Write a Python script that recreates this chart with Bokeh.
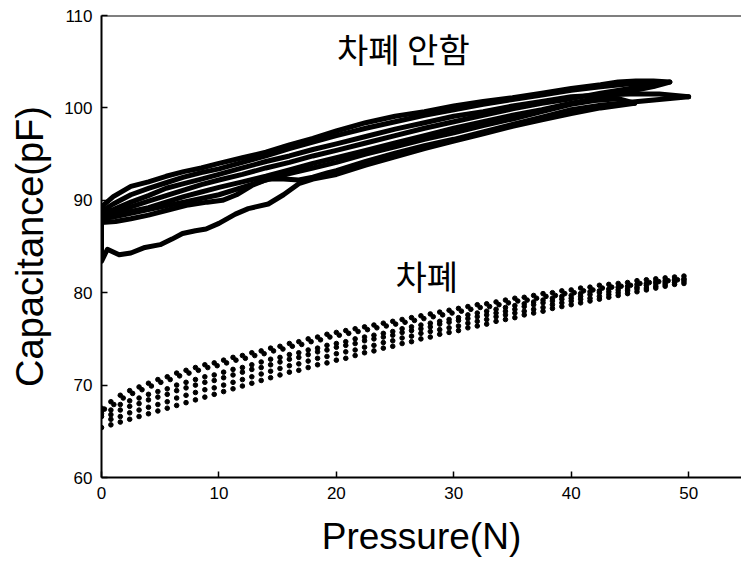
from bokeh.plotting import figure
from bokeh.models import FixedTicker, Span, Label, Range1d
from bokeh.embed import file_html
from bokeh.resources import INLINE

# ---------------- data ----------------
x_ticks = [0, 10, 20, 30, 40, 50]
y_ticks = [60, 70, 80, 90, 100, 110]
label_unshielded = "차폐 안함"
label_shielded = "차폐"
x_title = "Pressure(N)"
y_title = "Capacitance(pF)"

# Unshielded group: solid loading / unloading curves (pressure N, capacitance pF)
a_load_x = [0, 0, 0, 0, 0, 0, 0.5, 1.5, 2.5, 3.7, 5.0, 6.0, 6.9, 8.0, 8.9, 10.0, 11.4, 12.5, 14.2, 15.5, 16.8, 18.0,
            20.0, 22.5, 25.0, 27.5, 30.0, 32.5, 35.0, 37.5, 40.0, 42.5, 45.4]
a_load_y = [88.0, 87.1, 86.4, 85.6, 84.5, 83.4, 84.7, 84.1, 84.3, 84.9, 85.2, 85.8, 86.4, 86.7, 86.9, 87.5, 88.5, 89.1,
            89.6, 90.6, 91.8, 92.3, 92.8, 93.8, 94.7, 95.6, 96.4, 97.2, 98.0, 98.7, 99.4, 100.0, 100.5]
a_unload_x = [0, 1, 2.5, 4, 5.5, 7, 8.5, 10, 12, 14, 16, 18, 20, 22.5, 25, 27.5, 30, 32.5, 35, 37.5, 40, 42, 44, 45.4]
a_unload_y = [88.0, 88.2, 88.6, 89.0, 89.4, 89.8, 90.2, 90.6, 91.4, 92.2, 92.9, 93.5, 94.1, 95.0, 95.8, 96.6, 97.3,
              98.1, 98.8, 99.6, 100.4, 100.8, 101.0, 100.5]

b_load_x = [0, 1.2, 2.5, 4, 5.5, 7.4, 9, 10.3, 11.5, 12.8, 14.2, 15.5, 16.8, 18, 19.3, 20, 22.5, 25, 27.5, 30, 32.5,
            35, 37.5, 40, 42.5, 45, 47.5, 50]
b_load_y = [87.6, 87.7, 88.0, 88.4, 88.9, 89.5, 89.8, 90.0, 90.6, 91.6, 92.3, 92.3, 92.2, 92.5, 93.0, 93.2, 94.2,
            95.1, 95.9, 96.6, 97.4, 98.2, 99.0, 99.8, 100.3, 100.6, 100.9, 101.2]
b_unload_x = [0, 1, 2.5, 4, 5.5, 7, 8.5, 10, 12, 14, 16, 18, 20, 22.5, 25, 27.5, 30, 32.5, 35, 37.5, 40, 42.5, 45,
              47.5, 50]
b_unload_y = [88.6, 89.0, 89.8, 90.5, 91.3, 91.8, 92.3, 92.8, 93.5, 94.2, 94.8, 95.5, 96.1, 96.9, 97.7, 98.4, 99.1,
              99.6, 100.2, 100.7, 101.2, 101.4, 101.5, 101.5, 101.2]

c_load_x = [0, 1, 2.5, 4, 5.5, 7, 8.5, 10, 12, 14, 16, 18, 20, 22.5, 25, 27.5, 30, 32.5, 35, 37.5, 40, 42.5, 45, 47,
            48.4]
c_load_y = [88.2, 88.4, 88.8, 89.2, 89.8, 90.4, 90.9, 91.4, 92.0, 92.6, 93.3, 94.0, 94.6, 95.4, 96.2, 97.0, 97.8,
            98.5, 99.2, 99.8, 100.5, 101.1, 101.8, 102.3, 102.8]
c_unload_x = [0, 1, 2.5, 4, 5.5, 7, 8.5, 10, 12, 14, 16, 18, 20, 22.5, 25, 27.5, 30, 32.5, 35, 37.5, 40, 42.5, 44,
              45.5, 47, 48.4]
c_unload_y = [89.3, 90.4, 91.5, 92.0, 92.6, 93.1, 93.5, 94.0, 94.6, 95.2, 96.0, 96.7, 97.5, 98.4, 99.1, 99.6, 100.2,
              100.7, 101.1, 101.6, 102.1, 102.5, 102.8, 102.9, 102.9, 102.8]

d_load_x = [0, 1, 2.5, 4, 5.5, 7, 8.5, 10, 12, 14, 16, 18, 20, 22.5, 25, 27.5, 30, 32.5, 35, 37.5, 40, 42.5, 45, 47.2]
d_load_y = [88.4, 88.7, 89.3, 89.9, 90.5, 91.1, 91.7, 92.2, 92.8, 93.5, 94.1, 94.8, 95.4, 96.2, 97.0, 97.8, 98.5,
            99.2, 99.9, 100.5, 101.0, 101.6, 102.1, 102.6]
d_unload_x = [0, 1, 2.5, 4, 5.5, 7, 8.5, 10, 12, 14, 16, 18, 20, 22.5, 25, 27.5, 30, 32.5, 35, 37.5, 40, 42.5, 45, 47.2]
d_unload_y = [88.8, 89.6, 90.6, 91.3, 91.9, 92.5, 93.0, 93.4, 94.1, 94.8, 95.6, 96.3, 97.0, 97.8, 98.5, 99.2, 99.8,
              100.4, 100.9, 101.4, 101.9, 102.3, 102.6, 102.6]

# Shielded group: sampled points
pressure = [0.0, 0.8, 1.6, 2.4, 3.2, 4.0, 4.8, 5.6, 6.4, 7.2, 8.0, 8.8, 9.6, 10.4, 11.2, 12.0, 12.8, 13.6, 14.4,
            15.2, 16.0, 16.8, 17.6, 18.4, 19.2, 20.0, 20.8, 21.6, 22.4, 23.2, 24.0, 24.8, 25.6, 26.4, 27.2, 28.0,
            28.8, 29.6, 30.4, 31.2, 32.0, 32.8, 33.6, 34.4, 35.2, 36.0, 36.8, 37.6, 38.4, 39.2, 40.0, 40.8, 41.6,
            42.4, 43.2, 44.0, 44.8, 45.6, 46.4, 47.2, 48.0, 48.8, 49.6]
pressure_b = [0.25, 1.05, 1.85, 2.65, 3.45, 4.25, 5.05, 5.85, 6.65, 7.45, 8.25, 9.05, 9.85, 10.65, 11.45, 12.25,
              13.05, 13.85, 14.65, 15.45, 16.25, 17.05, 17.85, 18.65, 19.45, 20.25, 21.05, 21.85, 22.65, 23.45,
              24.25, 25.05, 25.85, 26.65, 27.45, 28.25, 29.05, 29.85, 30.65, 31.45, 32.25, 33.05, 33.85, 34.65,
              35.45, 36.25, 37.05, 37.85, 38.65, 39.45, 40.25, 41.05, 41.85, 42.65, 43.45, 44.25, 45.05, 45.85,
              46.65, 47.45, 48.25, 49.05]
s1 = [65.4, 65.7, 66.0, 66.3, 66.6, 66.9, 67.2, 67.5, 67.8, 68.1, 68.4, 68.7, 69.0, 69.3, 69.6, 69.9, 70.2, 70.5,
      70.8, 71.1, 71.4, 71.6, 71.9, 72.2, 72.4, 72.7, 72.9, 73.2, 73.5, 73.7, 74.0, 74.2, 74.5, 74.7, 75.0, 75.2,
      75.5, 75.7, 75.9, 76.2, 76.4, 76.6, 76.9, 77.1, 77.3, 77.6, 77.8, 78.0, 78.3, 78.5, 78.7, 78.9, 79.1, 79.3,
      79.5, 79.7, 79.9, 80.1, 80.3, 80.5, 80.7, 80.9, 81.0]
s2 = [66.6, 66.3, 66.6, 67.0, 67.3, 67.6, 67.9, 68.2, 68.6, 68.9, 69.2, 69.5, 69.7, 70.0, 70.3, 70.6, 70.9, 71.2,
      71.5, 71.8, 72.1, 72.3, 72.6, 72.9, 73.1, 73.4, 73.6, 73.8, 74.1, 74.3, 74.6, 74.8, 75.1, 75.3, 75.6, 75.8,
      76.0, 76.2, 76.4, 76.7, 76.9, 77.1, 77.4, 77.6, 77.8, 78.0, 78.2, 78.4, 78.7, 78.9, 79.1, 79.3, 79.4, 79.6,
      79.8, 80.0, 80.2, 80.4, 80.5, 80.7, 80.9, 81.1, 81.2]
s3 = [66.9, 66.8, 67.3, 67.7, 68.0, 68.4, 68.7, 69.0, 69.4, 69.7, 70.0, 70.3, 70.5, 70.8, 71.1, 71.4, 71.7, 71.9,
      72.2, 72.5, 72.8, 73.0, 73.3, 73.6, 73.8, 74.1, 74.3, 74.5, 74.8, 75.0, 75.2, 75.4, 75.7, 75.9, 76.1, 76.3,
      76.6, 76.8, 77.0, 77.2, 77.4, 77.6, 77.8, 78.0, 78.2, 78.5, 78.7, 78.9, 79.1, 79.3, 79.4, 79.6, 79.8, 80.0,
      80.1, 80.3, 80.4, 80.6, 80.8, 81.0, 81.1, 81.3, 81.4]
s4 = [67.2, 67.3, 67.9, 68.3, 68.6, 69.0, 69.3, 69.6, 70.0, 70.3, 70.6, 70.9, 71.1, 71.4, 71.7, 71.9, 72.2, 72.5,
      72.8, 73.0, 73.3, 73.5, 73.8, 74.0, 74.3, 74.5, 74.7, 75.0, 75.2, 75.4, 75.6, 75.8, 76.1, 76.3, 76.5, 76.7,
      76.9, 77.1, 77.3, 77.6, 77.8, 78.0, 78.2, 78.4, 78.6, 78.8, 79.0, 79.2, 79.4, 79.6, 79.7, 79.9, 80.1, 80.2,
      80.4, 80.6, 80.7, 80.9, 81.0, 81.2, 81.3, 81.4, 81.5]
s5 = [67.5, 68.2, 68.9, 69.4, 69.8, 70.2, 70.6, 70.9, 71.3, 71.6, 71.9, 72.2, 72.4, 72.7, 73.0, 73.2, 73.5, 73.7,
      74.0, 74.2, 74.5, 74.7, 75.0, 75.2, 75.5, 75.7, 75.9, 76.1, 76.3, 76.5, 76.7, 76.9, 77.1, 77.3, 77.5, 77.7,
      77.9, 78.1, 78.3, 78.5, 78.7, 78.8, 79.0, 79.2, 79.4, 79.5, 79.7, 79.9, 80.0, 80.2, 80.3, 80.5, 80.6, 80.8,
      80.9, 81.0, 81.1, 81.3, 81.4, 81.5, 81.6, 81.7, 81.8]
s6 = [67.4, 67.9, 68.6, 69.1, 69.5, 69.9, 70.3, 70.6, 71.0, 71.3, 71.6, 71.9, 72.1, 72.4, 72.7, 72.9, 73.2, 73.4,
      73.7, 73.9, 74.2, 74.4, 74.7, 74.9, 75.2, 75.4, 75.6, 75.8, 76.0, 76.2, 76.4, 76.6, 76.8, 77.0, 77.2, 77.4,
      77.6, 77.8, 78.0, 78.2, 78.4, 78.5, 78.7, 78.9, 79.1, 79.2, 79.4, 79.6, 79.7, 79.9, 80.0, 80.2, 80.3, 80.5,
      80.6, 80.7, 80.8, 81.0, 81.1, 81.2, 81.3, 81.4]

unshielded_curves = [
    (a_load_x, a_load_y), (a_unload_x, a_unload_y),
    (b_load_x, b_load_y), (b_unload_x, b_unload_y),
    (c_load_x, c_load_y), (c_unload_x, c_unload_y),
    (d_load_x, d_load_y), (d_unload_x, d_unload_y),
]
shielded_series = [(pressure, s1), (pressure, s2), (pressure, s3), (pressure, s4), (pressure, s5), (pressure_b, s6)]

# ---------------- figure ----------------
p = figure(width=741, height=573, output_backend="svg", toolbar_location=None,
           x_range=Range1d(0, 54.5), y_range=Range1d(60, 110),
           min_border_left=101, min_border_right=0, min_border_top=15, min_border_bottom=96)
p.background_fill_color = "white"
p.border_fill_color = "white"
p.outline_line_color = None
p.grid.visible = False

for ax in (p.xaxis[0], p.yaxis[0]):
    ax.axis_line_color = "black"
    ax.axis_line_width = 2
    ax.major_tick_in = 6
    ax.major_tick_out = 0
    ax.major_tick_line_color = "black"
    ax.major_tick_line_width = 1.5
    ax.minor_tick_line_color = None
    ax.major_label_text_font = "Liberation Sans"
    ax.major_label_text_font_size = "17px"
    ax.major_label_text_color = "black"
    ax.axis_label_text_font = "Liberation Sans"
    ax.axis_label_text_font_style = "normal"
    ax.axis_label_text_color = "black"

p.xaxis.ticker = FixedTicker(ticks=x_ticks)
p.yaxis.ticker = FixedTicker(ticks=y_ticks)
p.xaxis.axis_label = x_title
p.yaxis.axis_label = y_title
p.xaxis.axis_label_text_font_size = "37px"
p.yaxis.axis_label_text_font_size = "38px"
p.xaxis.major_label_standoff = 9
p.yaxis.major_label_standoff = 9
p.xaxis.axis_label_standoff = 14
p.yaxis.axis_label_standoff = 10

p.add_layout(Span(location=110, dimension="width", line_color="black", line_width=2))

for cx, cy in unshielded_curves:
    p.line(cx, cy, line_color="black", line_width=5, line_cap="round", line_join="round")

for sx, sy in shielded_series:
    p.scatter(sx, sy, marker="circle", size=4.6, fill_color="black", line_color="black")

p.add_layout(Label(x=25.7, y=106.4, text=label_unshielded, text_font="Noto Sans CJK KR",
                   text_font_size="34px", text_align="center", text_baseline="middle", text_color="black"))
p.add_layout(Label(x=27.7, y=81.9, text=label_shielded, text_font="Noto Sans CJK KR",
                   text_font_size="34px", text_align="center", text_baseline="middle", text_color="black"))

open("out.html", "w").write(file_html(p, INLINE))
